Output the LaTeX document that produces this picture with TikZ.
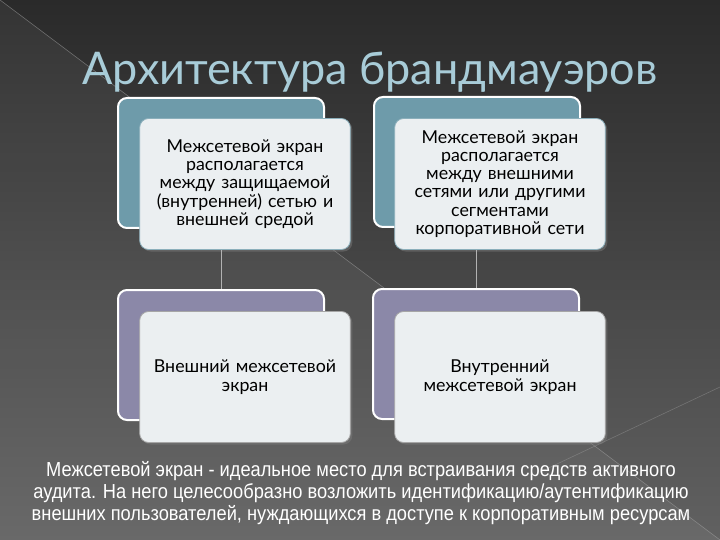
\documentclass[tikz,border=0pt]{standalone}
\usepackage{fontspec}
\setmainfont{Lato}
\newfontfamily\notefont[FakeStretch=0.9]{Liberation Sans}
\usetikzlibrary{calc, shadows}

\definecolor{bgtop}{HTML}{2A2A2A}
\definecolor{bgbot}{HTML}{616161}
\definecolor{tealback}{HTML}{6E9BAA}
\definecolor{violetback}{HTML}{8B88A8}
\definecolor{cardfill}{HTML}{EBEFF1}
\definecolor{titleblue}{HTML}{A8CCD8}

\begin{document}
\begin{tikzpicture}[x=1pt, y=-1pt,
        backcard/.style={draw=white, line width=2pt, rounded corners=9pt,
            minimum width=206pt, minimum height=130pt, inner sep=0pt},
        frontcard/.style={fill=cardfill, rounded corners=9pt, line width=0.8pt,
            minimum width=210pt, minimum height=131pt, text width=204pt, align=center,
            font=\fontsize{17.8}{18.3}\selectfont, text=black,
            drop shadow={shadow xshift=2pt, shadow yshift=-2pt, opacity=0.45}},
        link/.style={draw=gray!60, line width=1pt}]
    \useasboundingbox (0, 0) rectangle (720, 540);
    % background
    \shade [top color=bgtop, bottom color=bgbot] (0, 0) rectangle (720, 540);
    \fill [white, opacity=0.05] (0, 0) -- (720, 540) -- (0, 540) -- cycle;
    \draw [gray!70, opacity=0.5, line width=0.6pt] (0, 0) -- (720, 540);
    \draw [gray!70, opacity=0.4, line width=0.6pt] (540, 472) -- (720, 387);
    % title
    \node (title) [text=titleblue, font=\fontsize{45}{50}\selectfont] at (370, 72) {Архитектура брандмауэров};
    % cards
    \node (tlb) [backcard, fill=tealback] at (221, 163) {};
    \node (trb) [backcard, fill=tealback] at (477, 162) {};
    \node (blb) [backcard, fill=violetback] at (221, 355) {};
    \node (brb) [backcard, fill=violetback] at (476, 354) {};
    \node (tlf) [frontcard, draw=tealback!80] at ($(tlb)+(24, 21)$)
        {Межсетевой экран\\ располагается\\ между защищаемой\\ (внутренней) сетью и\\ внешней средой};
    \node (trf) [frontcard, draw=tealback!80] at ($(trb)+(23, 22)$)
        {Межсетевой экран\\ располагается\\ между внешними\\ сетями или другими\\ сегментами\\ корпоративной сети};
    \node (blf) [frontcard, draw=gray!70] at ($(blb)+(24, 22)$)
        {Внешний межсетевой\\ экран};
    \node (brf) [frontcard, draw=gray!70] at ($(brb)+(24, 23)$)
        {Внутренний\\ межсетевой экран};
    \path [link] (blb.north |- tlf.south) -- (blb.north);
    \path [link] (brb.north |- trf.south) -- (brb.north);
    % note
    \node (note) [text=white, align=center, font=\notefont\fontsize{20.3}{22}\selectfont] at (361, 493)
        {Межсетевой экран - идеальное место для встраивания средств активного\\
         аудита. На него целесообразно возложить идентификацию/аутентификацию\\
         внешних пользователей, нуждающихся в доступе к корпоративным ресурсам};
\end{tikzpicture}
\end{document}
